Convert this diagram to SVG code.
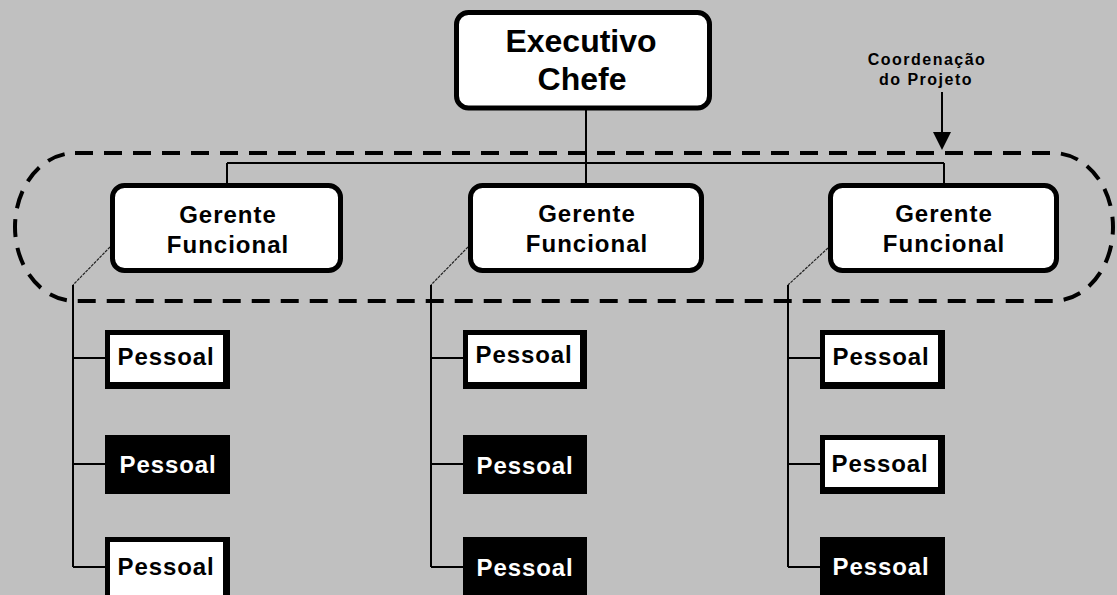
<svg xmlns="http://www.w3.org/2000/svg" width="1117" height="595" viewBox="0 0 1117 595">
  <defs>
    <style>
      .bg { fill: #c0c0c0; }
      .boss { fill: #ffffff; stroke: #000000; stroke-width: 5; }
      .mgr { fill: #ffffff; stroke: #000000; stroke-width: 5; }
      .t-boss { font-family: "Liberation Sans", Arial, sans-serif; font-weight: bold; font-size: 32px; fill: #000000; text-anchor: middle; }
      .t-mgr { font-family: "Liberation Sans", Arial, sans-serif; font-weight: bold; font-size: 24px; letter-spacing: 1px; fill: #000000; text-anchor: middle; }
      .t-staff { font-family: "Liberation Sans", Arial, sans-serif; font-weight: bold; font-size: 24px; letter-spacing: 0.9px; text-anchor: middle; }
      .t-note { font-family: "Liberation Sans", Arial, sans-serif; font-weight: bold; font-size: 16px; letter-spacing: 1.5px; fill: #000000; text-anchor: middle; }
      .dark { fill: #000000; }
      .light { fill: #ffffff; }
      .line { stroke: #000000; stroke-width: 2; fill: none; }
      .thin { stroke: #222222; stroke-width: 1.2; fill: none; stroke-dasharray: 3 1; }
      .scope { stroke: #000000; stroke-width: 4; fill: none; stroke-dasharray: 18 11; }
    </style>
  </defs>

  <rect class="bg" x="0" y="0" width="1117" height="595"/>

  <!-- project coordination boundary -->
  <g id="coordination-boundary">
    <rect class="scope" x="15" y="153" width="1098" height="148" rx="60" ry="74"/>
  </g>

  <!-- connectors -->
  <g id="connectors">
    <!-- chief to functional managers -->
    <path class="line" d="M586 110 V163 M227 163 H944 M227 163 V184 M586 163 V184 M944 163 V184"/>
    <!-- manager to staff (left) -->
    <path class="thin" d="M110 247 L73 285"/>
    <path class="line" d="M73 285 V567 M73 358 H106 M73 464 H106 M73 567 H106"/>
    <!-- manager to staff (middle) -->
    <path class="thin" d="M468 247 L431 285"/>
    <path class="line" d="M431 285 V567 M431 358 H464 M431 464 H464 M431 567 H464"/>
    <!-- manager to staff (right) -->
    <path class="thin" d="M828 248 L788 285"/>
    <path class="line" d="M788 285 V567 M788 358 H821 M788 464 H821 M788 567 H821"/>
    <!-- coordination label pointer -->
    <path class="line" d="M942 92 V134"/>
    <polygon class="dark" points="933,132 951,132 942,150"/>
  </g>

  <g id="coordination-label">
    <text class="t-note" x="927" y="65">Coordenação</text>
    <text class="t-note" x="926" y="85">do Projeto</text>
  </g>

  <!-- chief executive -->
  <g id="chief">
    <rect class="boss" x="456.5" y="12.5" width="253" height="95.5" rx="12"/>
    <text class="t-boss" x="581" y="52">Executivo</text>
    <text class="t-boss" x="582" y="90">Chefe</text>
  </g>

  <!-- functional managers -->
  <g id="manager-left">
    <rect class="mgr" x="112.5" y="185.5" width="228" height="85" rx="12"/>
    <text class="t-mgr" x="228" y="223">Gerente</text>
    <text class="t-mgr" x="228" y="253">Funcional</text>
  </g>
  <g id="manager-middle">
    <rect class="mgr" x="470.5" y="185.5" width="231" height="85" rx="12"/>
    <text class="t-mgr" x="587" y="222">Gerente</text>
    <text class="t-mgr" x="587" y="252">Funcional</text>
  </g>
  <g id="manager-right">
    <rect class="mgr" x="830.5" y="185.5" width="226" height="85" rx="12"/>
    <text class="t-mgr" x="944" y="222">Gerente</text>
    <text class="t-mgr" x="944" y="252">Funcional</text>
  </g>

  <!-- staff, left column -->
  <g id="staff-left-1">
    <rect class="dark" x="105" y="330" width="125" height="59"/>
    <rect class="light" x="110" y="335" width="113" height="47"/>
    <text class="t-staff dark" x="166" y="365">Pessoal</text>
  </g>
  <g id="staff-left-2">
    <rect class="dark" x="105" y="435" width="125" height="59"/>
    <text class="t-staff light" x="168" y="473">Pessoal</text>
  </g>
  <g id="staff-left-3">
    <rect class="dark" x="105" y="537" width="125" height="60"/>
    <rect class="light" x="110" y="542" width="113" height="53"/>
    <text class="t-staff dark" x="166" y="575">Pessoal</text>
  </g>

  <!-- staff, middle column -->
  <g id="staff-middle-1">
    <rect class="dark" x="463" y="330" width="124" height="59"/>
    <rect class="light" x="468" y="335" width="112" height="47"/>
    <text class="t-staff dark" x="524" y="363">Pessoal</text>
  </g>
  <g id="staff-middle-2">
    <rect class="dark" x="463" y="435" width="124" height="59"/>
    <text class="t-staff light" x="525" y="474">Pessoal</text>
  </g>
  <g id="staff-middle-3">
    <rect class="dark" x="463" y="537" width="124" height="60"/>
    <text class="t-staff light" x="525" y="576">Pessoal</text>
  </g>

  <!-- staff, right column -->
  <g id="staff-right-1">
    <rect class="dark" x="820" y="330" width="125" height="59"/>
    <rect class="light" x="825" y="335" width="113" height="47"/>
    <text class="t-staff dark" x="881" y="365">Pessoal</text>
  </g>
  <g id="staff-right-2">
    <rect class="dark" x="820" y="435" width="125" height="59"/>
    <rect class="light" x="825" y="440" width="113" height="47"/>
    <text class="t-staff dark" x="880" y="472">Pessoal</text>
  </g>
  <g id="staff-right-3">
    <rect class="dark" x="820" y="537" width="125" height="60"/>
    <text class="t-staff light" x="881" y="575">Pessoal</text>
  </g>
</svg>
